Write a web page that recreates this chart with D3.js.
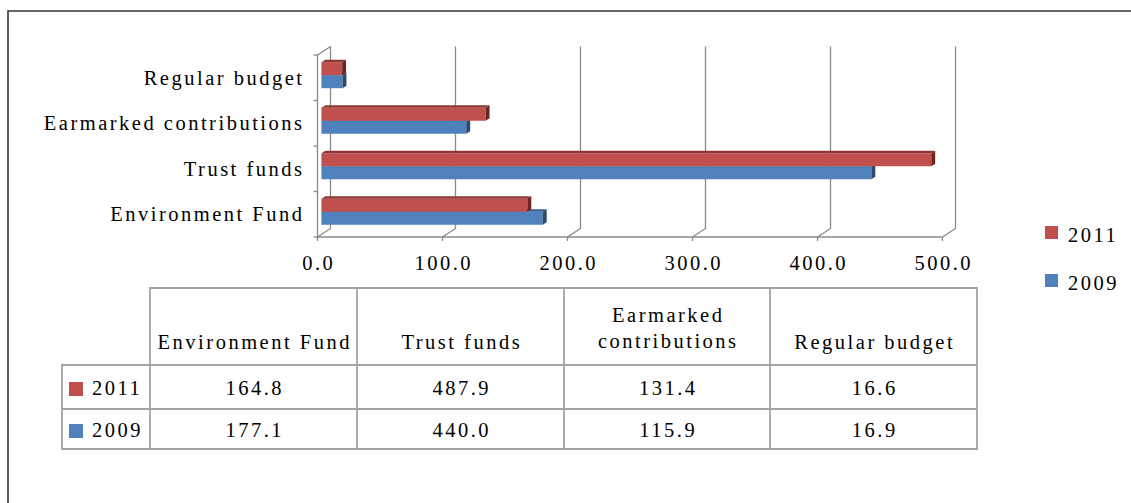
<!DOCTYPE html>
<html>
<head>
<meta charset="utf-8">
<script src="https://cdn.jsdelivr.net/npm/d3@7"></script>
</head>
<body style="margin:0; background:#fff">
<div id="chart"></div>
<script>
// data
let categories = ["Environment Fund", "Trust funds", "Earmarked contributions", "Regular budget"]
let years = ["2011", "2009"]
let values2011 = [164.8, 487.9, 131.4, 16.6]
let values2009 = [177.1, 440.0, 115.9, 16.9]
let xTicks = [0, 100, 200, 300, 400, 500]
let colors = { "2011": "#C0504D", "2009": "#4F81BD" }
let topColors = { "2011": "#8E3735", "2009": "#3A6190" }
let sideColors = { "2011": "#6B2523", "2009": "#2B4A70" }

let ls = 2.5 // letter spacing, trailing space shifts anchors

let svg = d3.select("#chart").append("svg")
  .attr("width", 1131)
  .attr("height", 503)

// outer frame
svg.append("path")
  .attr("d", "M8,503 L8,11 L1131,11")
  .attr("fill", "none")
  .attr("stroke", "#333")
  .attr("stroke-width", 1.6)

// front plane scales, depth goes back up-right
let x = d3.scaleLinear().domain([0, 500]).range([317.5, 942.5])
let y = d3.scaleBand().domain(categories.slice().reverse()).range([55, 237])
let depth = [13, -8.5]
function P(v, yy, z) {
  return [x(v) + depth[0] * z, yy + depth[1] * z]
}
let line = d3.line()

let grid = svg.append("g").attr("fill", "none").attr("stroke", "#8a8a8a").attr("stroke-width", 1.3)

// back wall lines and floor diagonals
xTicks.forEach(function (t) {
  grid.append("path").attr("d", line([P(t, 55, 1), P(t, 237, 1), P(t, 237, 0)]))
})
// front value axis with ticks
grid.append("path").attr("d", line([P(0, 237, 0), P(500, 237, 0)]))
xTicks.forEach(function (t) {
  let p = P(t, 237, 0)
  grid.append("path").attr("d", line([p, [p[0], p[1] + 4]]))
})
// left category axis
grid.append("path").attr("d", line([P(0, 55, 1), P(0, 55, 0), P(0, 237, 0)]))
let edges = y.domain().map(function (c) { return y(c) }).concat([237])
edges.forEach(function (e) {
  let p = P(0, e, 0)
  grid.append("path").attr("d", line([[p[0] - 4, p[1]], p]))
})

// tick labels
svg.selectAll(".xlab").data(xTicks).enter().append("text")
  .attr("class", "xlab")
  .attr("x", function (d) { return x(d) + ls / 2 })
  .attr("y", 270)
  .attr("text-anchor", "middle")
  .text(function (d) { return d3.format(".1f")(d) })

svg.selectAll(".ylab").data(categories).enter().append("text")
  .attr("class", "ylab")
  .attr("x", 302 + ls)
  .attr("y", function (d) { return y(d) + y.bandwidth() / 2 + 7 })
  .attr("text-anchor", "end")
  .text(function (d) { return d })

// 3d bars, blue drawn first so red sits on top
let zf = 0.3, zb = 0.6, bh = 13
let series = [
  { year: "2009", values: values2009, off: 0 },
  { year: "2011", values: values2011, off: -bh }
]
let bars = svg.append("g")
series.forEach(function (s) {
  categories.forEach(function (c, i) {
    let v = s.values[i]
    let c0 = y(c) + y.bandwidth() / 2
    let t = c0 + s.off, b = t + bh
    let g = bars.append("g")
    g.append("path")
      .attr("d", line([P(0, t, zf), P(v, t, zf), P(v, b, zf), P(0, b, zf)]) + "Z")
      .attr("fill", colors[s.year])
    g.append("path")
      .attr("d", line([P(0, t, zf), P(v, t, zf), P(v, t, zb), P(0, t, zb)]) + "Z")
      .attr("fill", topColors[s.year])
    g.append("path")
      .attr("d", line([P(v, t, zf), P(v, t, zb), P(v, b, zb), P(v, b, zf)]) + "Z")
      .attr("fill", sideColors[s.year])
  })
})

// legend
let legend = svg.selectAll(".leg").data(years).enter().append("g")
  .attr("transform", function (d, i) { return "translate(1045," + (226 + i * 48) + ")" })
legend.append("rect").attr("width", 13).attr("height", 13).attr("fill", function (d) { return colors[d] })
legend.append("text").attr("x", 23).attr("y", 16).text(function (d) { return d })

// data table
let cols = [62, 150, 357, 564, 770, 977]
let rows = [288, 365, 409, 449]
let tbl = svg.append("g").attr("stroke", "#a3a3a3").attr("stroke-width", 1.8).attr("fill", "none")
tbl.append("path").attr("d", line([[cols[1], rows[1]], [cols[1], rows[0]], [cols[5], rows[0]], [cols[5], rows[3]], [cols[0], rows[3]], [cols[0], rows[1]], [cols[5], rows[1]]]))
tbl.append("path").attr("d", line([[cols[0], rows[2]], [cols[5], rows[2]]]))
cols.slice(2, 5).forEach(function (cx) {
  tbl.append("path").attr("d", line([[cx, rows[0]], [cx, rows[3]]]))
})
tbl.append("path").attr("d", line([[cols[1], rows[1]], [cols[1], rows[3]]]))

let colMid = function (i) { return (cols[i + 1] + cols[i + 2]) / 2 + ls / 2 }
categories.forEach(function (c, i) {
  let lines = c === "Earmarked contributions" ? ["Earmarked", "contributions"] : [c]
  let hd = svg.append("text").attr("text-anchor", "middle")
  if (lines.length === 1) {
    hd.attr("x", colMid(i)).attr("y", 349).text(c)
  } else {
    lines.forEach(function (l, k) {
      hd.append("tspan").attr("x", colMid(i)).attr("y", 322 + k * 26).text(l)
    })
  }
})

let tableRows = [
  { year: "2011", values: values2011, base: 395 },
  { year: "2009", values: values2009, base: 437 }
]
tableRows.forEach(function (r) {
  svg.append("rect")
    .attr("x", 69).attr("y", r.base - 13)
    .attr("width", 14).attr("height", 14)
    .attr("fill", colors[r.year])
  svg.append("text").attr("x", 92).attr("y", r.base).text(r.year)
  r.values.forEach(function (v, i) {
    svg.append("text")
      .attr("x", colMid(i))
      .attr("y", r.base)
      .attr("text-anchor", "middle")
      .text(d3.format(".1f")(v))
  })
})

// one text style for everything
svg.selectAll("text")
  .style("font-family", "'Liberation Serif'")
  .style("font-size", "20.5px")
  .style("letter-spacing", ls + "px")
  .style("fill", "#000")
</script>
</body>
</html>
